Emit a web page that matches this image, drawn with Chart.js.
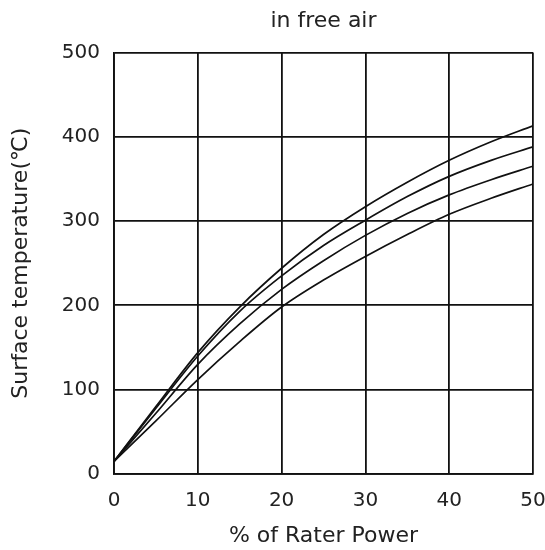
<!DOCTYPE html>
<html>
<head>
<meta charset="utf-8">
<script src="https://cdn.jsdelivr.net/npm/chart.js@4"></script>
<style>
  html, body { margin: 0; padding: 0; background: #ffffff; }
  #wrap { width: 545px; height: 550px; }
</style>
</head>
<body>
<div id="wrap"><canvas id="c" width="545" height="550"></canvas></div>
<script>
const powerPct = [0, 5, 10, 15, 20, 25, 30, 35, 40, 45, 50];
const curveA = [15, 80, 144, 198, 244, 284, 317, 346, 372, 394, 413];
const curveB = [15, 78, 140, 193, 235, 271, 301, 329, 353, 372, 388];
const curveC = [15, 72, 130, 178, 219, 253, 283, 309, 331, 349, 365];
const curveD = [15, 63, 112, 157, 198, 230, 258, 284, 308, 327, 344];
const xTicks = [0, 10, 20, 30, 40, 50];
const yTicks = [0, 100, 200, 300, 400, 500];

const FONT = 'DejaVu Sans';
const TXT = '#222222';

function toPoints(ys) {
  return powerPct.map((x, i) => ({ x: x, y: ys[i] }));
}
function ds(label, ys) {
  return {
    label: label,
    data: toPoints(ys),
    borderColor: '#111111',
    borderWidth: 1.7,
    pointRadius: 0,
    fill: false,
    cubicInterpolationMode: 'monotone'
  };
}

new Chart(document.getElementById('c'), {
  type: 'line',
  data: {
    datasets: [ds('A', curveA), ds('B', curveB), ds('C', curveC), ds('D', curveD)]
  },
  options: {
    responsive: false,
    animation: false,
    layout: { padding: { left: 0, right: 0, top: 0, bottom: 0 } },
    plugins: {
      legend: { display: false },
      tooltip: { enabled: false },
      title: {
        display: true,
        text: 'in free air',
        fullSize: false,
        color: TXT,
        font: { family: FONT, size: 22, weight: 'normal' },
        padding: { top: 8, bottom: 18 }
      }
    },
    scales: {
      x: {
        type: 'linear',
        min: 0, max: 50,
        afterBuildTicks: (s) => { s.ticks = xTicks.map(v => ({ value: v })); },
        afterFit: (s) => { s.height = 76; s.paddingRight = 12; },
        grid: { color: '#111111', lineWidth: 1.8, drawTicks: false },
        border: { color: '#111111', width: 1.8 },
        ticks: { color: TXT, font: { family: FONT, size: 20 }, padding: 15, maxRotation: 0 },
        title: {
          display: true,
          text: '% of Rater Power',
          color: TXT,
          font: { family: FONT, size: 22 },
          padding: { top: 0, bottom: 1 }
        }
      },
      y: {
        type: 'linear',
        min: 0, max: 500,
        afterBuildTicks: (s) => { s.ticks = yTicks.map(v => ({ value: v })); },
        afterFit: (s) => { s.width = 114; },
        grid: { color: '#111111', lineWidth: 1.8, drawTicks: false },
        border: { color: '#111111', width: 1.8 },
        ticks: { color: TXT, font: { family: FONT, size: 20 }, padding: 14 },
        title: {
          display: true,
          text: 'Surface temperature(℃)',
          color: TXT,
          font: { family: FONT, size: 22 },
          padding: { top: 8, bottom: 0 }
        }
      }
    }
  }
});
</script>
</body>
</html>
